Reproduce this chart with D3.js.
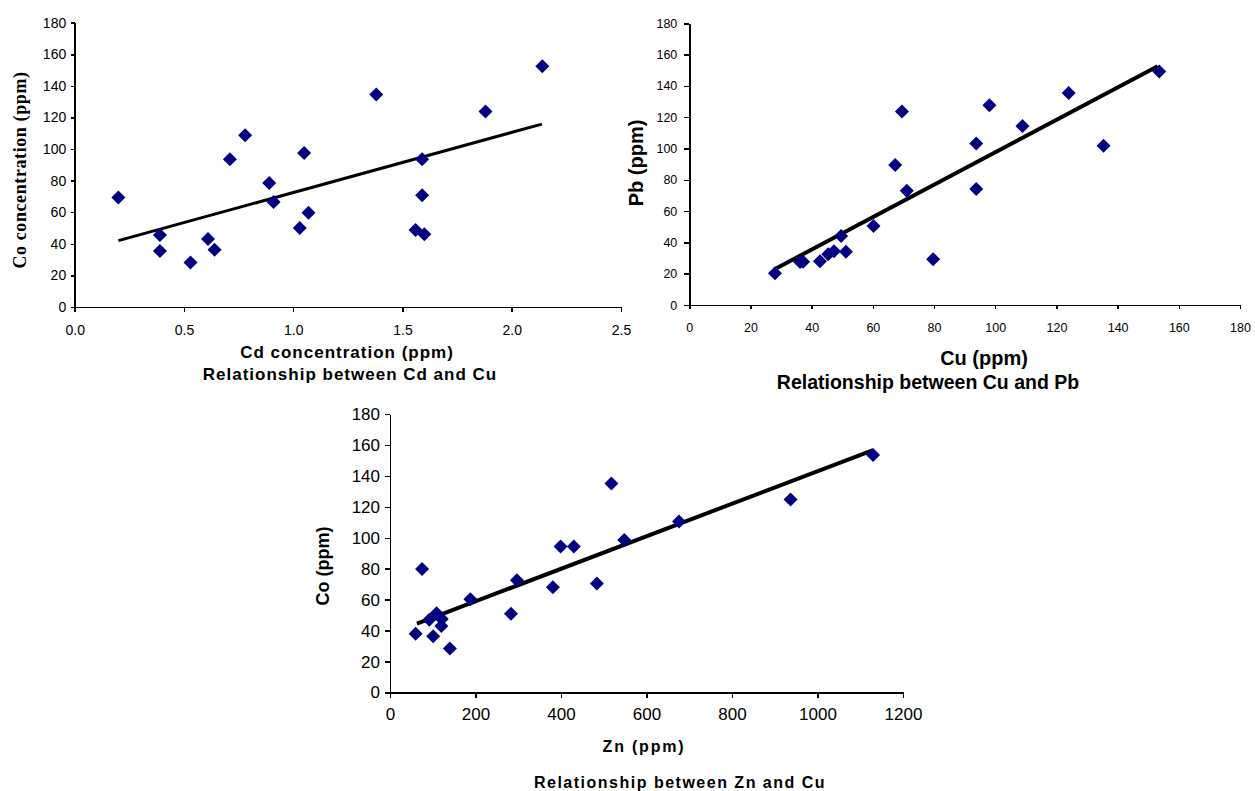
<!DOCTYPE html>
<html>
<head>
<meta charset="utf-8">
<script src="https://cdn.jsdelivr.net/npm/d3@7"></script>
<style>
  body { margin: 0; background: #fff; }
  svg { display: block; }
  .tick text { font-family: "Liberation Sans", Arial, sans-serif; fill: #000; }
  .axis path, .axis line { stroke: #000; stroke-width: 1.5; shape-rendering: crispEdges; }
  .lbl { font-weight: bold; fill: #000; }
  .sans { font-family: "Liberation Sans", Arial, sans-serif; }
  .serif { font-family: "Liberation Serif", "Times New Roman", serif; }
</style>
</head>
<body>
<svg id="canvas" width="1255" height="791"></svg>
<script>
// chart 1 : Cd vs Co
var cd = [0.20, 0.39, 0.39, 0.53, 0.61, 0.64, 0.71, 0.78, 0.89, 0.91, 1.03, 1.05, 1.07, 1.38, 1.56, 1.59, 1.59, 1.60, 1.88, 2.14];
var co1 = [69.4, 45.6, 35.5, 28.1, 43.0, 36.3, 93.5, 108.7, 78.5, 66.5, 50.0, 97.5, 59.7, 134.6, 48.7, 93.5, 70.7, 46.0, 123.7, 152.4];
var trend1 = [[0.20, 42.0], [2.138, 115.8]];
var xTicks1 = [0, 0.5, 1.0, 1.5, 2.0, 2.5];

// chart 2 : Cu vs Pb
var cu = [28.0, 36.2, 37.2, 42.7, 45.4, 47.3, 49.6, 51.2, 60.2, 67.3, 69.5, 71.1, 79.7, 93.8, 93.8, 98.1, 108.9, 124.0, 135.4, 153.6];
var pb = [20.3, 27.4, 27.6, 28.0, 32.4, 34.4, 44.1, 34.1, 50.5, 89.4, 123.6, 73.0, 29.3, 103.2, 74.1, 127.6, 114.3, 135.5, 101.8, 149.2];
var trend2 = [[27.9, 22.9], [153.1, 152.6]];
var xTicks2 = [0, 20, 40, 60, 80, 100, 120, 140, 160, 180];

// chart 3 : Zn vs Co
var zn = [60, 75, 92, 101, 109, 121, 120, 140, 188, 283, 297, 381, 399, 430, 484, 518, 548, 676, 937, 1130];
var co3 = [38.0, 79.9, 47.0, 36.4, 51.3, 47.5, 43.0, 28.5, 60.3, 50.9, 72.5, 68.0, 94.3, 94.3, 70.4, 135.1, 98.6, 110.5, 124.8, 153.5];
var trend3 = [[63, 44.5], [1130, 156.7]];
var xTicks3 = [0, 200, 400, 600, 800, 1000, 1200];

var yTicks = [0, 20, 40, 60, 80, 100, 120, 140, 160, 180];

var svg = d3.select("#canvas");

function drawPanel(p, xs, ys, trend) {
  var x = d3.scaleLinear().domain(p.xDomain).range([p.left, p.right]);
  var y = d3.scaleLinear().domain([0, 180]).range([p.bottom, p.top]);
  var g = svg.append("g");

  g.append("g").attr("class", "axis")
    .attr("transform", "translate(0," + p.bottom + ")")
    .call(d3.axisBottom(x).tickValues(p.xTicks).tickFormat(p.xFmt)
      .tickSize(p.xTick).tickPadding(p.xPad).tickSizeOuter(0))
    .selectAll("text").style("font-size", p.font + "px");

  g.append("g").attr("class", "axis")
    .attr("transform", "translate(" + p.left + ",0)")
    .call(d3.axisLeft(y).tickValues(yTicks)
      .tickSize(p.yTick).tickPadding(p.yPad).tickSizeOuter(0))
    .selectAll("text").style("font-size", p.font + "px");

  // trendline
  g.append("path")
    .datum(trend)
    .attr("d", d3.line().x(function(d){return x(d[0]);}).y(function(d){return y(d[1]);}))
    .attr("stroke", "#000")
    .attr("stroke-width", p.lw)
    .attr("fill", "none");

  // diamonds
  g.selectAll("path.pt")
    .data(xs.map(function(v, i){ return [v, ys[i]]; }))
    .enter()
    .append("path")
      .attr("class", "pt")
      .attr("d", "M0,-7L7,0L0,7L-7,0Z")
      .attr("fill", "#000080")
      .attr("transform", function(d){ return "translate(" + x(d[0]) + "," + y(d[1]) + ")"; });
}

drawPanel({left: 74.7, right: 621, top: 22.7, bottom: 307, xDomain: [0, 2.5], xTicks: xTicks1,
  xFmt: d3.format(".1f"), xTick: 5, xPad: 13.5, yTick: 4, yPad: 4.5, font: 14, lw: 3}, cd, co1, trend1);

drawPanel({left: 689.3, right: 1240, top: 23.3, bottom: 305, xDomain: [0, 180], xTicks: xTicks2,
  xFmt: d3.format("d"), xTick: 4, xPad: 14.5, yTick: 5, yPad: 7, font: 12.5, lw: 4}, cu, pb, trend2);

drawPanel({left: 390, right: 903, top: 414, bottom: 692.5, xDomain: [0, 1200], xTicks: xTicks3,
  xFmt: d3.format("d"), xTick: 5, xPad: 10.5, yTick: 5, yPad: 5, font: 17, lw: 4}, zn, co3, trend3);

// axis titles and captions
function label(txt, x, y, size, rot, spacing, fam) {
  svg.append("text")
    .attr("class", "lbl " + (fam || "sans"))
    .attr("text-anchor", "middle")
    .attr("transform", "translate(" + x + "," + y + ")" + (rot ? " rotate(-90)" : ""))
    .style("font-size", size + "px")
    .style("letter-spacing", (spacing || 0) + "px")
    .text(txt);
}

label("Co concentration (ppm)", 25.5, 170, 18, true, 0.6, "serif");
label("Cd concentration (ppm)", 347, 358, 17, false, 1);
label("Relationship between Cd and Cu", 350, 379.5, 17, false, 1);

label("Pb (ppm)", 643, 163, 20, true);
label("Cu (ppm)", 984, 365, 20, false);
label("Relationship between Cu and Pb", 928, 388.5, 19.5, false);

label("Co (ppm)", 329, 566, 18, true);
label("Zn (ppm)", 644, 752, 16, false, 1.8);
label("Relationship between Zn and Cu", 680, 788, 16, false, 1.5);
</script>
</body>
</html>
